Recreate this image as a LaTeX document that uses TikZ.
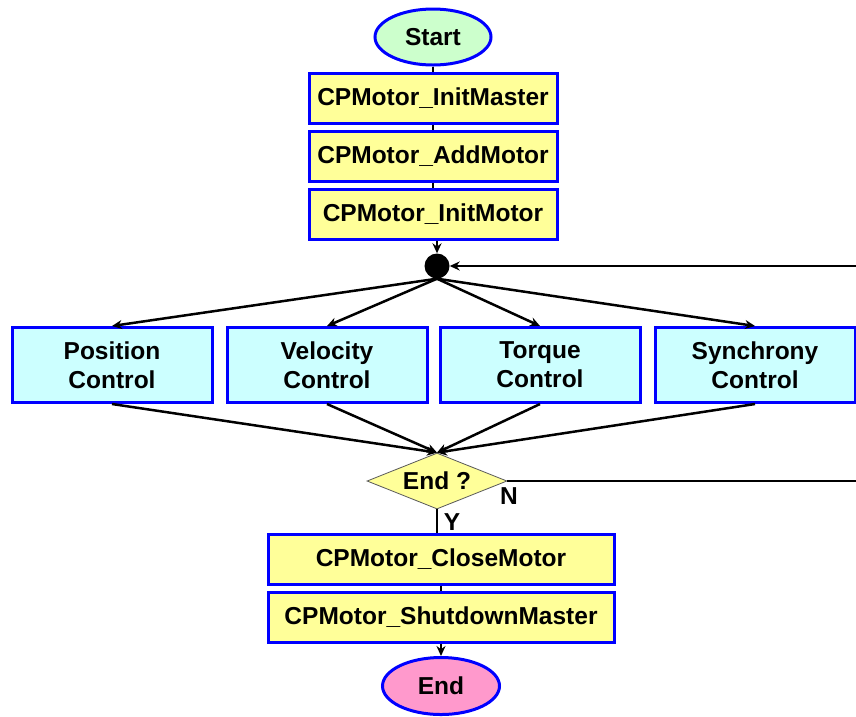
\documentclass[tikz,border=0pt]{standalone}
\usepackage{fontspec}
\setmainfont{Liberation Sans}
\usetikzlibrary{shapes.geometric,arrows.meta}
\definecolor{bordblue}{HTML}{0000FF}
\definecolor{boxyellow}{HTML}{FFFF99}
\definecolor{boxcyan}{HTML}{CCFFFF}
\definecolor{startgreen}{HTML}{CCFFCC}
\definecolor{endpink}{HTML}{FF99CC}
\tikzset{
  lbl/.style={font=\fontsize{24.5}{29}\selectfont\bfseries, text=black},
  funcbox/.style={lbl, draw=bordblue, line width=3pt, fill=boxyellow, rectangle, inner sep=0pt, minimum height=50pt},
  ctrlbox/.style={lbl, draw=bordblue, line width=3pt, fill=boxcyan, rectangle, align=center, inner sep=0pt, minimum width=200pt, minimum height=75pt},
  term/.style={lbl, draw=bordblue, line width=3pt, ellipse, inner sep=0pt},
  conn/.style={draw=black, line width=2.5pt},
  arr/.style={conn, -{Stealth[length=10pt,width=9pt]}},
  dec/.style={lbl, diamond, draw=gray!70!black, line width=0.8pt, fill=boxyellow, aspect=2.5, inner sep=0pt, minimum width=140pt, minimum height=56pt},
}
\begin{document}
\begin{tikzpicture}[x=1pt,y=-1pt]
\useasboundingbox (0,0) rectangle (856,716);
\node[term, fill=startgreen, minimum width=116pt, minimum height=56pt] (start) at (433,37) {Start};
\node[funcbox, minimum width=248pt] (im) at (433,98) {CPMotor\_InitMaster};
\node[funcbox, minimum width=248pt] (am) at (433,156) {CPMotor\_AddMotor};
\node[funcbox, minimum width=248pt] (imo) at (433,214) {CPMotor\_InitMotor};
\node[circle, fill=black, inner sep=0pt, minimum size=25pt] (dot) at (437,266) {};
\node[ctrlbox] (pos) at (112,365) {Position\\Control};
\node[ctrlbox] (vel) at (327,365) {Velocity\\Control};
\node[ctrlbox] (tor) at (540,365) {Torque\\Control};
\node[ctrlbox] (syn) at (755,365) {Synchrony\\Control};
\node[dec] (dia) at (437,481) {End ?};
\node[lbl] (nlab) at (509,496) {N};
\node[lbl] (ylab) at (452,522) {Y};
\node[funcbox, minimum width=346pt] (cm) at (441,559) {CPMotor\_CloseMotor};
\node[funcbox, minimum width=346pt] (sm) at (441,617) {CPMotor\_ShutdownMaster};
\node[term, fill=endpink, minimum width=117pt, minimum height=57pt] (endn) at (441,686) {End};
\coordinate (rtop) at (856,266);
\coordinate (rbot) at (856,481);

\draw[conn] (start) -- (im);
\draw[conn] (im) -- (am);
\draw[conn] (am) -- (imo);
\draw[arr] (imo.south -| dot) -- (dot);
\foreach \b in {pos,vel,tor,syn} {
  \draw[arr] (dot.south) -- (\b.north);
  \draw[arr] (\b.south) -- (dia.north);
}
\draw[conn] (dia.east) -- (rbot);
\draw[arr] (rtop) -- (dot);
\draw[conn] (dia.south) -- (dia.south |- cm.north);
\draw[conn] (cm) -- (sm);
\draw[arr] (sm) -- (endn);
\end{tikzpicture}
\end{document}
